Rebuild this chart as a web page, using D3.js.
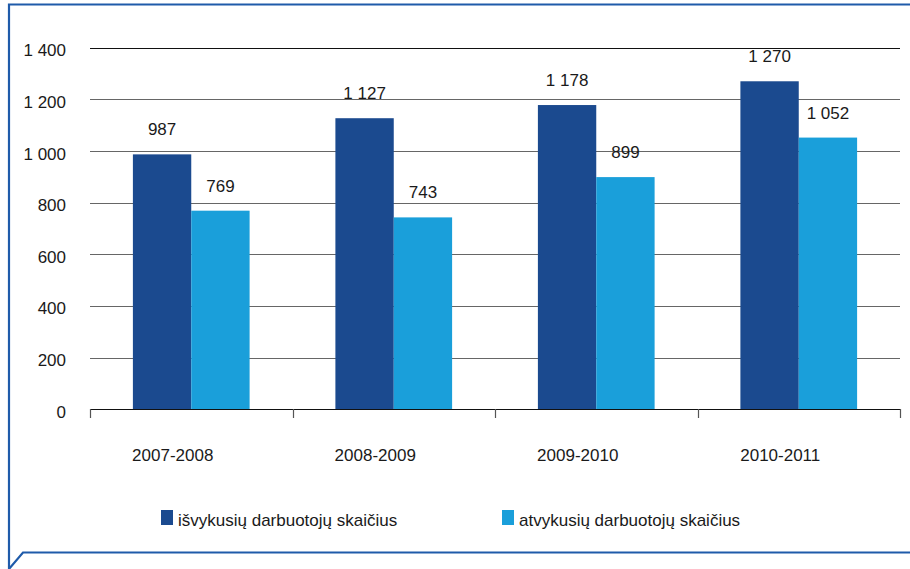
<!DOCTYPE html>
<html><head><meta charset="utf-8">
<script src="https://cdn.jsdelivr.net/npm/d3@7"></script>
<style>
body{margin:0;background:#fff;}
svg text{font-family:"Liberation Sans",Arial,sans-serif;fill:#1a1a1a;}
</style></head>
<body><svg id="c" width="910" height="569"></svg>
<script>
const categories = ["2007-2008","2008-2009","2009-2010","2010-2011"];
const seriesNames = ["išvykusių darbuotojų skaičius","atvykusių darbuotojų skaičius"];
const departed = [987,1127,1178,1270];
const arrived = [769,743,899,1052];
const yTicks = [0,200,400,600,800,1000,1200,1400];
const colors = ["#1B4A8F","#1A9FDA"];

const fmt = v => { const s = String(v); return s.length > 3 ? s.slice(0,-3) + " " + s.slice(-3) : s; };

const svg = d3.select("#c");
const border = "#1F5BAA";
// frame
svg.append("path")
  .attr("d","M9,569 L9,4.5 L910,4.5 M910,552.5 L23,552.5 L9,569")
  .attr("fill","none").attr("stroke",border).attr("stroke-width",2.2);

const x0 = d3.scaleBand().domain(categories).range([90,900]).paddingInner(0).paddingOuter(0);
const x1 = d3.scaleBand().domain([0,1]).range([0,x0.bandwidth()]).paddingInner(0).paddingOuter(0.735);
const y = d3.scaleLinear().domain([0,1400]).range([409.3,47.7]);

// gridlines
svg.append("g").selectAll("line").data(yTicks.filter(t=>t>0)).join("line")
  .attr("x1",90).attr("x2",900)
  .attr("y1",d=>Math.round(y(d))+0.5).attr("y2",d=>Math.round(y(d))+0.5)
  .attr("stroke",d=>d===1400?"#111":"#666").attr("stroke-width",1.2);

// y labels
svg.append("g").selectAll("text").data(yTicks).join("text")
  .attr("x",66).attr("y",d=>y(d)+8.5).attr("text-anchor","end")
  .attr("font-size",17).text(fmt);

// bars
const data = categories.map((c,i)=>({c, vals:[departed[i],arrived[i]]}));
const g = svg.append("g").selectAll("g").data(data).join("g")
  .attr("transform",d=>`translate(${x0(d.c)},0)`);
g.selectAll("rect").data(d=>d.vals.map((v,k)=>({v,k}))).join("rect")
  .attr("x",d=>x1(d.k)).attr("width",x1.bandwidth())
  .attr("y",d=>y(d.v)).attr("height",d=>y(0)-y(d.v))
  .attr("fill",d=>colors[d.k]);
g.selectAll("text").data(d=>d.vals.map((v,k)=>({v,k}))).join("text")
  .attr("x",d=>x1(d.k)+x1.bandwidth()/2).attr("y",d=>y(d.v)-19)
  .attr("text-anchor","middle").attr("font-size",17).text(d=>fmt(d.v));

// x axis
const xa = svg.append("g");
xa.append("line").attr("x1",90).attr("x2",900).attr("y1",409.5).attr("y2",409.5).attr("stroke","#111").attr("stroke-width",1.2);
const bounds = categories.map(c=>x0(c)).concat([900]);
xa.selectAll("line.t").data(bounds).join("line").attr("class","t")
  .attr("x1",d=>Math.round(d)+0.5).attr("x2",d=>Math.round(d)+0.5)
  .attr("y1",409).attr("y2",418).attr("stroke","#555").attr("stroke-width",1.2);
xa.selectAll("text").data(categories).join("text")
  .attr("x",d=>x0(d)+x0.bandwidth()/2-18.5).attr("y",461)
  .attr("text-anchor","middle").attr("font-size",17).text(d=>d);

// legend
const legX = [161,502];
const lg = svg.append("g").selectAll("g").data(seriesNames).join("g");
lg.append("rect").attr("x",(d,i)=>legX[i]).attr("y",510).attr("width",12).attr("height",15).attr("fill",(d,i)=>colors[i]);
lg.append("text").attr("x",(d,i)=>legX[i]+17).attr("y",526).attr("font-size",17).text(d=>d);
</script></body></html>
